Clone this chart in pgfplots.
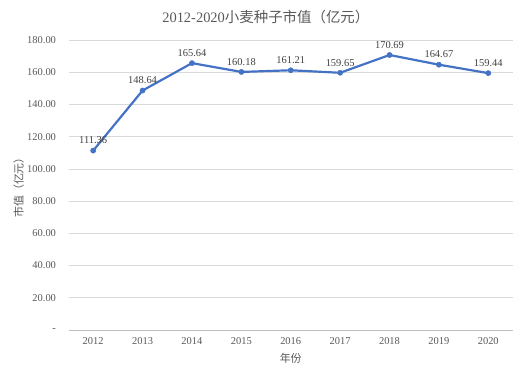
\documentclass[border=0pt]{standalone}
\usepackage{pgfplots}
\pgfplotsset{compat=1.18}
\usepackage{fontspec}
\setmainfont{Liberation Serif}
\newfontfamily\cjk{Noto Sans CJK SC}
\definecolor{lineblue}{HTML}{4472C4}
\definecolor{txtgray}{HTML}{595959}
\definecolor{lblgray}{HTML}{404040}
\definecolor{gridgray}{HTML}{D9D9D9}
\begin{document}
\begin{tikzpicture}
\path[use as bounding box] (0,0) rectangle (530bp,378bp);
\begin{axis}[
  at={(68.5bp,48bp)}, anchor=south west,
  scale only axis, width=444.5bp, height=290bp,
  xmin=2011.5, xmax=2020.5, ymin=0, ymax=180,
  axis line style={draw=none},
  xtick={2012,...,2020},
  xticklabels={2012,2013,2014,2015,2016,2017,2018,2019,2020},
  ytick={0,20,...,180},
  yticklabels={-,20.00,40.00,60.00,80.00,100.00,120.00,140.00,160.00,180.00},
  major tick length=0pt,
  ymajorgrids, grid style={gridgray, line width=0.75pt},
  tick label style={font=\fontsize{10.5}{12}\selectfont, text=txtgray},
  /pgf/number format/assume math mode=true,
  xticklabel style={yshift=-4bp},
  yticklabel style={xshift=-9bp},
  title={\fontsize{14.5}{16}\selectfont\color{txtgray}2012-2020{\cjk 小麦种子市值（亿元）}},
  title style={at={(axis description cs:0.444,1.079)}, anchor=center, yshift=-6pt},
  xlabel={\fontsize{11}{12}\selectfont\color{txtgray}\cjk 年份},
  xlabel style={at={(axis description cs:0.5,-0.0966)}, anchor=center},
  ylabel={\fontsize{11}{12}\selectfont\color{txtgray}\cjk 市值（亿元）},
  ylabel style={at={(axis description cs:-0.112,0.5)}, anchor=center},
  clip=false,
  nodes near coords,
  nodes near coords style={font=\fontsize{10.5}{12}\selectfont, text=lblgray, anchor=south, yshift=3bp},
  every node near coord/.append style={/pgf/number format/.cd, fixed, precision=2, fixed zerofill},
]
\draw[gridgray!70!gray, line width=0.75pt] (axis cs:2011.5,0) -- (axis cs:2020.5,0);
\addplot[lineblue, line width=2.2pt, mark=*, mark size=2.6pt, mark options={fill=lineblue, line width=0.5pt}]
 coordinates {(2012,111.36)(2013,148.64)(2014,165.64)(2015,160.18)(2016,161.21)(2017,159.65)(2018,170.69)(2019,164.67)(2020,159.44)};
\end{axis}
\end{tikzpicture}
\end{document}
